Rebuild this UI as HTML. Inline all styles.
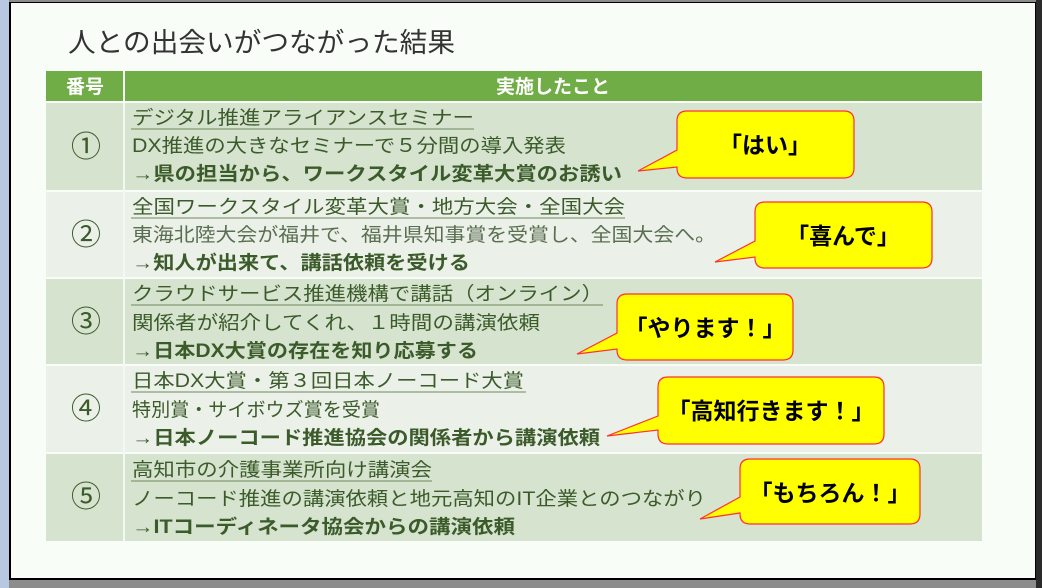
<!DOCTYPE html>
<html><head><meta charset="utf-8"><style>
html,body{margin:0;padding:0;background:#8a8a8a;}
svg{display:block;}
text{font-family:"Liberation Sans","Noto Sans CJK JP",sans-serif;}
</style></head><body>
<svg width="1042" height="588" viewBox="0 0 1042 588" xmlns="http://www.w3.org/2000/svg">
<rect x="0" y="0" width="1042" height="588" fill="#8c8c8c"/>
<rect x="0" y="0" width="9" height="588" fill="#b8c8e0"/>
<rect x="9" y="2" width="1027" height="578" fill="#000"/>
<rect x="11" y="3" width="1024" height="575" fill="#f8fdf7"/>
<rect x="1036" y="0" width="6" height="588" fill="#2a2a2a"/>
<text x="68" y="52" font-size="27" fill="#333" textLength="387" lengthAdjust="spacingAndGlyphs">人との出会いがつながった結果</text>
<rect x="46" y="71" width="936" height="30" fill="#70ad47"/>
<rect x="123" y="71" width="2" height="470" fill="#f8fdf7"/>
<text x="85" y="93" font-size="19" font-weight="bold" fill="#fff" text-anchor="middle">番号</text>
<text x="553" y="93" font-size="19" font-weight="bold" fill="#fff" text-anchor="middle">実施したこと</text>
<rect x="46" y="103" width="936" height="87" fill="#d6e3cf"/>
<rect x="46" y="192" width="936" height="85" fill="#ebf0e8"/>
<rect x="46" y="279" width="936" height="85" fill="#d6e3cf"/>
<rect x="46" y="366" width="936" height="86" fill="#ebf0e8"/>
<rect x="46" y="454" width="936" height="87" fill="#d6e3cf"/>
<rect x="123" y="103" width="2" height="438" fill="#f4f8f2"/>
<g font-size="30" fill="#3b5b2a" text-anchor="middle">
<text x="86" y="157">①</text><text x="86" y="245">②</text><text x="86" y="332">③</text><text x="86" y="419">④</text><text x="86" y="507">⑤</text>
</g>
<g font-size="19" fill="#3b5b2a">
<text x="132" y="124" textLength="342" lengthAdjust="spacingAndGlyphs">デジタル推進アライアンスセミナー</text>
<line x1="131" y1="129" x2="474" y2="129" stroke="#6d8a5e" stroke-width="1"/>
<text x="132" y="152" textLength="434" lengthAdjust="spacingAndGlyphs">DX推進の大きなセミナーで５分間の導入発表</text>
<text x="132" y="180" font-weight="bold" textLength="490" lengthAdjust="spacingAndGlyphs">→県の担当から、ワークスタイル変革大賞のお誘い</text>

<text x="132" y="213" textLength="493" lengthAdjust="spacingAndGlyphs">全国ワークスタイル変革大賞・地方大会・全国大会</text>
<line x1="131" y1="218" x2="625" y2="218" stroke="#6d8a5e" stroke-width="1"/>
<text x="132" y="241" fill="#5b6e52" textLength="584" lengthAdjust="spacingAndGlyphs">東海北陸大会が福井で、福井県知事賞を受賞し、全国大会へ。</text>
<text x="132" y="269" font-weight="bold" textLength="338" lengthAdjust="spacingAndGlyphs">→知人が出来て、講話依頼を受ける</text>

<text x="132" y="300" textLength="471" lengthAdjust="spacingAndGlyphs">クラウドサービス推進機構で講話（オンライン）</text>
<line x1="131" y1="305" x2="603" y2="305" stroke="#6d8a5e" stroke-width="1"/>
<text x="132" y="329" textLength="408" lengthAdjust="spacingAndGlyphs">関係者が紹介してくれ、１時間の講演依頼</text>
<text x="132" y="357" font-weight="bold" textLength="346" lengthAdjust="spacingAndGlyphs">→日本DX大賞の存在を知り応募する</text>

<text x="132" y="387" textLength="392" lengthAdjust="spacingAndGlyphs">日本DX大賞・第３回日本ノーコード大賞</text>
<line x1="131" y1="392" x2="526" y2="392" stroke="#6d8a5e" stroke-width="1"/>
<text x="132" y="416" textLength="248" lengthAdjust="spacingAndGlyphs">特別賞・サイボウズ賞を受賞</text>
<text x="132" y="444" font-weight="bold" textLength="468" lengthAdjust="spacingAndGlyphs">→日本ノーコード推進協会の関係者から講演依頼</text>

<text x="132" y="476" textLength="300" lengthAdjust="spacingAndGlyphs">高知市の介護事業所向け講演会</text>
<line x1="131" y1="481" x2="432" y2="481" stroke="#6d8a5e" stroke-width="1"/>
<text x="132" y="505" textLength="574" lengthAdjust="spacingAndGlyphs">ノーコード推進の講演依頼と地元高知のIT企業とのつながり</text>
<text x="132" y="533" font-weight="bold" textLength="383" lengthAdjust="spacingAndGlyphs">→ITコーディネータ協会からの講演依頼</text>
</g>
<g fill="#ffff00" stroke="#ff3030" stroke-width="1.2">
<path d="M687,111 H844 Q854,111 854,121 V168 Q854,178 844,178 H687 Q677,178 677,168 V167 L638,171 L677,150 V121 Q677,111 687,111 Z"/>
<path d="M765,202 H922 Q932,202 932,212 V258 Q932,268 922,268 H765 Q755,268 755,258 V257 L715,262 L755,241 V212 Q755,202 765,202 Z"/>
<path d="M627,294 H783 Q793,294 793,304 V350 Q793,360 783,360 H627 Q617,360 617,350 V349 L577,354 L617,333 V304 Q617,294 627,294 Z"/>
<path d="M668,377 H874 Q884,377 884,387 V434 Q884,444 874,444 H668 Q658,444 658,434 V430 L607,436 L658,416 V387 Q658,377 668,377 Z"/>
<path d="M750,459 H910 Q920,459 920,469 V514 Q920,524 910,524 H750 Q740,524 740,514 V513 L700,519 L740,497 V469 Q740,459 750,459 Z"/>
</g>
<g font-size="23" font-weight="bold" fill="#000" text-anchor="middle">
<text x="765" y="153">「はい」</text>
<text x="843" y="244">「喜んで」</text>
<text x="705" y="336">「やります！」</text>
<text x="771" y="419">「高知行きます！」</text>
<text x="830" y="501">「もちろん！」</text>
</g>
</svg>
</body></html>
